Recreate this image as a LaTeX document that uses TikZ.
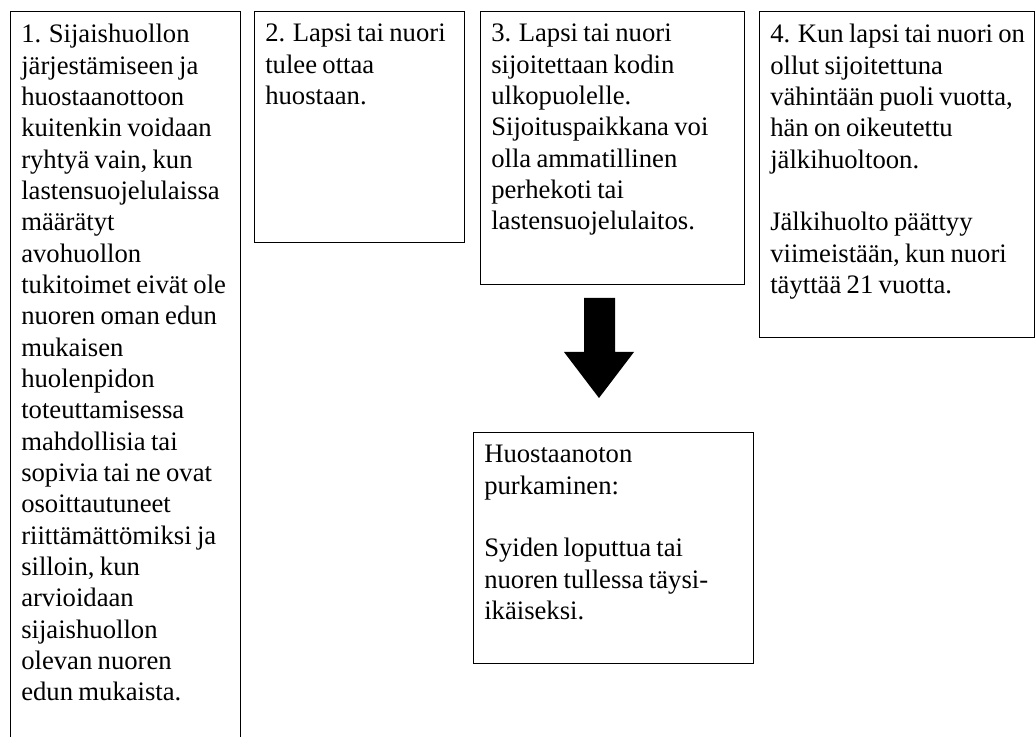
\documentclass[tikz,border=0pt]{standalone}
\usepackage{fontspec}
\setmainfont{Liberation Serif}[WordSpace=0.8]
\usepackage{tikz}
\tikzset{frame/.style={draw,line width=1pt,anchor=north west,inner sep=0pt},
  txt/.style={anchor=north west,align=left,inner sep=0pt,font=\fontsize{20}{23.5}\selectfont}}

\begin{document}
\begin{tikzpicture}[x=0.75pt,y=-0.75pt]
    \useasboundingbox (0,0) rectangle (1035,737);
    \clip (0,0) rectangle (1035,737);

    \node[frame,minimum width=172.5pt,minimum height=560pt] (b1) at (10,11) {};
    \node[frame,minimum width=157.5pt,minimum height=173.25pt] (b2) at (254,11) {};
    \node[frame,minimum width=198pt,minimum height=204.75pt] (b3) at (480,11) {};
    \node[frame,minimum width=206.25pt,minimum height=244.5pt] (b4) at (759,11) {};
    \node[frame,minimum width=210pt,minimum height=173.25pt] (b5) at (473,432) {};

    \node[txt] (t1) at (21,24) {1. Sijaishuollon\\järjestämiseen ja\\huostaanottoon\\kuitenkin voidaan\\ryhtyä vain, kun\\lastensuojelulaissa\\määrätyt\\avohuollon\\tukitoimet eivät ole\\nuoren oman edun\\mukaisen\\huolenpidon\\toteuttamisessa\\mahdollisia tai\\sopivia tai ne ovat\\osoittautuneet\\riittämättömiksi ja\\silloin, kun\\arvioidaan\\sijaishuollon\\olevan nuoren\\edun mukaista.};
    \node[txt] (t2) at (265,24) {2. Lapsi tai nuori\\tulee ottaa\\huostaan.};
    \node[txt] (t3) at (491,24) {3. Lapsi tai nuori\\sijoitettaan kodin\\ulkopuolelle.\\Sijoituspaikkana voi\\olla ammatillinen\\perhekoti tai\\lastensuojelulaitos.};
    \node[txt] (t4) at (770,24) {4. Kun lapsi tai nuori on\\ollut sijoitettuna\\vähintään puoli vuotta,\\hän on oikeutettu\\jälkihuoltoon.\\[23.5pt]Jälkihuolto päättyy\\viimeistään, kun nuori\\täyttää 21 vuotta.};
    \node[txt] (t5) at (484,445) {Huostaanoton\\purkaminen:\\[23.5pt]Syiden loputtua tai\\nuoren tullessa täysi-\\ikäiseksi.};

    % block arrow from 3 down to the closing box
    \fill (584,298) -- (615,298) -- (615,352) -- (634,352) -- (599,398) -- (564,352) -- (584,352) -- cycle;
\end{tikzpicture}
\end{document}
